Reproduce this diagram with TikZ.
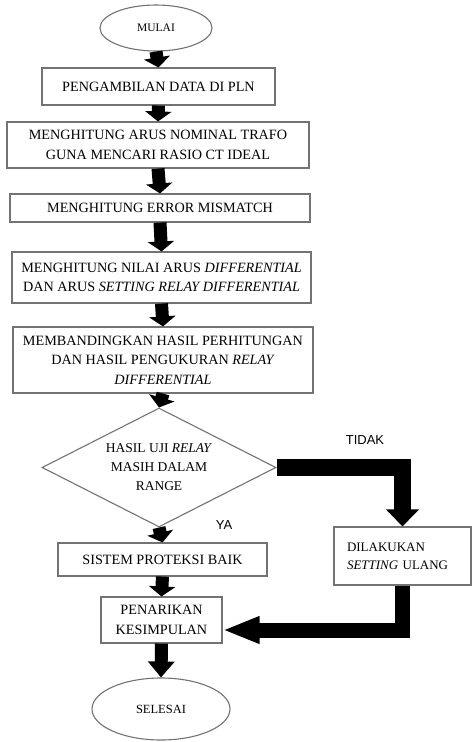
\documentclass[tikz,border=0pt]{standalone}
\usepackage{fontspec}
\setmainfont{Liberation Serif}
\newfontfamily\labfont{Liberation Sans}
\usetikzlibrary{shapes.geometric,arrows.meta}
\tikzset{
  procbox/.style={draw=black!55,line width=1.1pt,rectangle,inner sep=0pt,align=center,font=\fontsize{14.2}{19.5}\selectfont},
  termnode/.style={draw=black!55,line width=1.1pt,ellipse,inner sep=0pt,align=center},
  decnode/.style={draw=black!55,line width=1.1pt,diamond,aspect=2,inner sep=0pt,align=center,font=\fontsize{13.5}{19}\selectfont},
  flowarrow/.style={line width=13pt,-{Triangle[width=26pt,length=10pt]}},
  bigarrow/.style={line width=17pt},
  lab/.style={font=\labfont\fontsize{13}{15}\selectfont}
}
\begin{document}
\begin{tikzpicture}[x=1pt,y=-1pt]
\useasboundingbox[fill=white] (0,0) rectangle (473,742);
\node[termnode,minimum width=112pt,minimum height=46pt,font=\fontsize{11.5}{13}\selectfont] (mulai) at (156,28) {MULAI};
\node[procbox,minimum width=233pt,minimum height=37pt] (b1) at (158.5,86.5) {PENGAMBILAN DATA DI PLN};
\node[procbox,minimum width=302pt,minimum height=46pt] (b2) at (158,145) {MENGHITUNG ARUS NOMINAL TRAFO\\GUNA MENCARI RASIO CT IDEAL};
\node[procbox,minimum width=300pt,minimum height=28pt] (b3) at (160,208) {MENGHITUNG ERROR MISMATCH};
\node[procbox,minimum width=299pt,minimum height=51pt] (b4) at (161.5,277.5) {MENGHITUNG NILAI ARUS \textit{DIFFERENTIAL}\\DAN ARUS \textit{SETTING RELAY DIFFERENTIAL}};
\node[procbox,minimum width=300pt,minimum height=66pt] (b5) at (163,360) {MEMBANDINGKAN HASIL PERHITUNGAN\\DAN HASIL PENGUKURAN \textit{RELAY}\\\textit{DIFFERENTIAL}};
\node[decnode,minimum width=234pt,minimum height=119pt] (dec) at (159,467.5) {HASIL UJI \textit{RELAY}\\MASIH DALAM\\RANGE};
\node[procbox,minimum width=209pt,minimum height=33pt] (sis) at (162.5,559.5) {SISTEM PROTEKSI BAIK};
\node[procbox,minimum width=121pt,minimum height=46pt] (pen) at (161.5,620) {PENARIKAN\\KESIMPULAN};
\node[procbox,minimum width=137pt,minimum height=58pt,align=left,text width=111pt,font=\fontsize{13}{18}\selectfont] (dil) at (402.5,556) {DILAKUKAN\\\mbox{\textit{SETTING} ULANG}};
\node[termnode,minimum width=138pt,minimum height=62pt,font=\fontsize{12.5}{14}\selectfont] (sel) at (161,709) {SELESAI};
\node[lab] (tidak) at (365,440) {TIDAK};
\node[lab] (ya) at (224,525) {YA};
\draw[flowarrow] (mulai.south) -- (b1.north);
\draw[flowarrow] (b1.south) -- (b2.north);
\draw[flowarrow] (b2.south) -- (b3.north);
\draw[flowarrow] (b3.south) -- (b4.north);
\draw[flowarrow] (b4.south) -- (b5.north);
\draw[flowarrow] (b5.south) -- (dec.north);
\draw[flowarrow] (dec.south) -- (sis.north);
\draw[flowarrow] (sis.south) -- (pen.north);
\draw[flowarrow,-{Triangle[width=26pt,length=16pt]}] (pen.south) -- (sel.north);
\draw[bigarrow,-{Triangle[width=32pt,length=17pt]}] (dec.east) -| (dil.north);
\draw[bigarrow,line width=15pt,-{Triangle[width=25pt,length=37pt]}] (dil.south) |- ([yshift=-10pt]pen.east);
\end{tikzpicture}
\end{document}
